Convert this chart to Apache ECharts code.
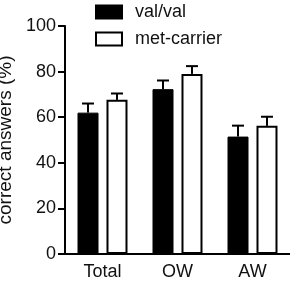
<!DOCTYPE html>
<html>
<head>
<meta charset="utf-8">
<script src="https://cdn.jsdelivr.net/npm/echarts@6/dist/echarts.min.js"></script>
<style>
  html, body { margin: 0; padding: 0; background: #fff; }
  #chart { width: 290px; height: 282px; }
</style>
</head>
<body>
<div id="chart"></div>
<script>
// data
var categories = ['Total', 'OW', 'AW']
var valVal = [62, 72.3, 51.5]
var valValErr = [4, 3.8, 4.8]
var metCarrier = [67.6, 79, 56.2]
var metCarrierErr = [2.8, 3.4, 4]
var yTicks = [0, 20, 40, 60, 80, 100]

var font = '"Liberation Sans", Arial, Helvetica, sans-serif'
var chart = echarts.init(document.getElementById('chart'), null, { renderer: 'canvas' })

// error bar drawn above each bar, side -1 = left bar, 1 = right bar
function errorItem(side) {
    return function (params, api) {
        var cat = api.value(0)
        var top = api.coord([cat, api.value(1) + api.value(2)])
        var base = api.coord([cat, api.value(1)])
        var band = api.size([1, 0])[0]
        var cx = top[0] + side * band * 0.193
        var half = 6
        var style = { stroke: '#000', lineWidth: 2 }
        return {
            type: 'group',
            children: [
                { type: 'line', shape: { x1: cx, y1: base[1], x2: cx, y2: top[1] }, style: style },
                { type: 'line', shape: { x1: cx - half, y1: top[1], x2: cx + half, y2: top[1] }, style: style }
            ]
        }
    }
}

function errData(vals, errs) {
    var out = []
    for (var i = 0; i < vals.length; i++) {
        out.push([i, vals[i], errs[i]])
    }
    return out
}

var option = {
    animation: false,
    textStyle: { fontFamily: font },
    grid: { left: 65, right: 0, top: 26, bottom: 28, containLabel: false, outerBoundsMode: 'none' },
    legend: {
        orient: 'vertical',
        left: 95,
        top: 3,
        padding: 0,
        icon: 'rect',
        itemWidth: 26,
        itemHeight: 13,
        itemGap: 9,
        data: ['val/val', 'met-carrier'],
        itemStyle: { borderColor: '#000', borderWidth: 2 },
        textStyle: { fontSize: 18, color: '#111', fontFamily: font, padding: [0, 0, 0, 8] }
    },
    xAxis: {
        type: 'category',
        data: categories,
        axisLine: { lineStyle: { color: '#000', width: 2 } },
        axisTick: { alignWithLabel: true, length: 6, lineStyle: { color: '#000', width: 2 } },
        axisLabel: { fontSize: 18, color: '#111', margin: 9, fontFamily: font }
    },
    yAxis: {
        type: 'value',
        min: 0,
        max: 100,
        interval: 20,
        name: 'correct answers (%)',
        nameLocation: 'middle',
        nameGap: 45,
        nameTextStyle: { fontSize: 19, color: '#111', fontFamily: font },
        axisLine: { show: true, lineStyle: { color: '#000', width: 2 } },
        axisTick: { show: true, length: 7, lineStyle: { color: '#000', width: 2 } },
        axisLabel: {
            fontSize: 18, color: '#111', margin: 9, fontFamily: font,
            formatter: function (v) { return yTicks.indexOf(v) >= 0 ? String(v) : '' }
        },
        splitLine: { show: false }
    },
    series: [
        {
            name: 'val/val',
            type: 'bar',
            data: valVal,
            barWidth: 21,
            barGap: '38%',
            itemStyle: { color: '#000', borderColor: '#000', borderWidth: 1 }
        },
        {
            name: 'met-carrier',
            type: 'bar',
            data: metCarrier,
            barWidth: 21,
            itemStyle: { color: '#fff', borderColor: '#000', borderWidth: 2 }
        },
        {
            type: 'custom',
            renderItem: errorItem(-1),
            data: errData(valVal, valValErr),
            encode: { x: 0, y: 1 },
            z: 5
        },
        {
            type: 'custom',
            renderItem: errorItem(1),
            data: errData(metCarrier, metCarrierErr),
            encode: { x: 0, y: 1 },
            z: 5
        }
    ]
}
chart.setOption(option)
</script>
</body>
</html>
